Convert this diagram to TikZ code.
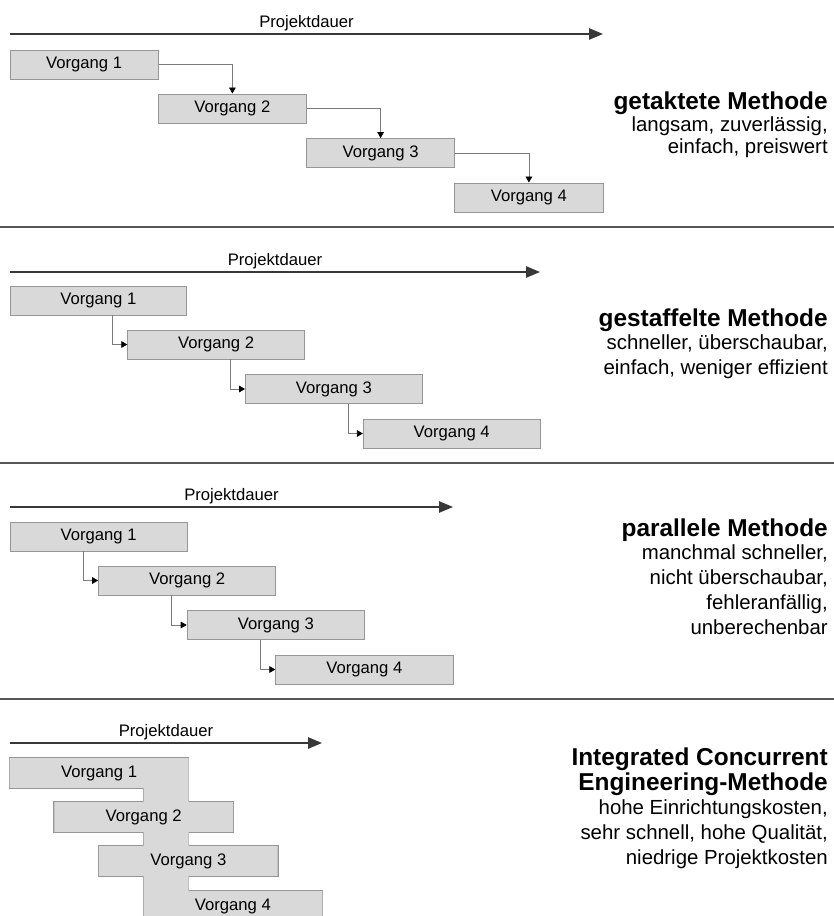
\documentclass[tikz,border=0pt]{standalone}
\usepackage{fontspec}
\setmainfont{Liberation Sans}
\usetikzlibrary{arrows.meta,calc,backgrounds}
\definecolor{boxfill}{HTML}{D9D9D9}
\definecolor{boxline}{HTML}{969696}
\definecolor{darkline}{HTML}{383838}
\definecolor{connline}{HTML}{7A7A7A}
\newcommand{\mtitel}{\fontsize{18.3}{18.3}\selectfont\bfseries}

\begin{document}
\begin{tikzpicture}[x=0.75pt, y=-0.75pt, every node/.style={font=\fontsize{12.5}{15}\selectfont, inner sep=0pt},
	vg/.style={draw=boxline, line width=0.7pt, fill=boxfill, minimum height=21.75pt, minimum width=#1},
	vgtext/.style={minimum height=21.75pt, minimum width=#1},
	dauer/.style={draw=darkline, line width=1.2pt, -{Triangle[length=10.5pt,width=8.5pt]}},
	conn/.style={draw=connline, line width=0.6pt, -{Triangle[length=4.5pt,width=5pt,color=black]}},
	trenn/.style={draw=darkline!85, line width=1.5pt},
	meth/.style={anchor=north east, align=right, font=\fontsize{15.3}{18.75}\selectfont}]
	\useasboundingbox (0,0) rectangle (834,916);
	% getaktete Methode
	\coordinate (sa) at (10,34);
	\coordinate (ea) at (603,34);
	\draw[dauer] (sa) -- (ea) node[midway, above=2pt] (pa) {Projektdauer};
	\node[vg=111.2pt] (a1) at (84.1,64.5) {Vorgang 1};
	\node[vg=111.2pt] (a2) at (232.4,108.5) {Vorgang 2};
	\node[vg=111.2pt] (a3) at (380.6,153) {Vorgang 3};
	\node[vg=111.2pt] (a4) at (528.9,197.5) {Vorgang 4};
	\draw[conn] (a1) -| (a2);
	\draw[conn] (a2) -| (a3);
	\draw[conn] (a3) -| (a4);
	\node[meth, font=\fontsize{15.3}{17}\selectfont] (ma) at (828,92) {{\mtitel getaktete Methode}\\[-1pt] langsam, zuverlässig,\\ einfach, preiswert};
	\draw[trenn] (0,227) -- (834,227);
	% gestaffelte Methode
	\coordinate (sb) at (10,272);
	\coordinate (eb) at (540,272);
	\draw[dauer] (sb) -- (eb) node[midway, above=2pt] (pb) {Projektdauer};
	\node[vg=132.5pt] (b1) at (98.3,300.5) {Vorgang 1};
	\node[vg=132.5pt] (b2) at (216.1,344.5) {Vorgang 2};
	\node[vg=132.5pt] (b3) at (333.9,389) {Vorgang 3};
	\node[vg=132.5pt] (b4) at (451.7,433.5) {Vorgang 4};
	\draw[conn] ($(b1.south -| b2.west)+(-15,0)$) |- (b2.west);
	\draw[conn] ($(b2.south -| b3.west)+(-15,0)$) |- (b3.west);
	\draw[conn] ($(b3.south -| b4.west)+(-15,0)$) |- (b4.west);
	\node[meth] (mb) at (828,309) {{\mtitel gestaffelte Methode}\\[-2pt] schneller, überschaubar,\\ einfach, weniger effizient};
	\draw[trenn] (0,463) -- (834,463);
	% parallele Methode
	\coordinate (sc) at (10,507);
	\coordinate (ec) at (453,507);
	\draw[dauer] (sc) -- (ec) node[midway, above=2pt] (pc) {Projektdauer};
	\node[vg=132.9pt] (c1) at (98.6,536.5) {Vorgang 1};
	\node[vg=132.9pt] (c2) at (187.2,580.5) {Vorgang 2};
	\node[vg=132.9pt] (c3) at (275.8,625) {Vorgang 3};
	\node[vg=132.9pt] (c4) at (364.4,669.5) {Vorgang 4};
	\draw[conn] ($(c1.south -| c2.west)+(-15,0)$) |- (c2.west);
	\draw[conn] ($(c2.south -| c3.west)+(-15,0)$) |- (c3.west);
	\draw[conn] ($(c3.south -| c4.west)+(-15,0)$) |- (c4.west);
	\node[meth] (mc) at (828,519) {{\mtitel parallele Methode}\\[-2pt] manchmal schneller,\\ nicht überschaubar,\\ fehleranfällig,\\ unberechenbar};
	\draw[trenn] (0,699) -- (834,699);
	% Integrated Concurrent Engineering
	\coordinate (sd) at (10,743);
	\coordinate (ed) at (322,743);
	\draw[dauer] (sd) -- (ed) node[midway, above=2pt] (pd) {Projektdauer};
	\node[vgtext=133.7pt] (d1) at (99.1,773) {Vorgang 1};
	\node[vgtext=133.7pt] (d2) at (143.7,817) {Vorgang 2};
	\node[vgtext=133.7pt] (d3) at (188.3,861) {Vorgang 3};
	\node[vgtext=133.7pt] (d4) at (232.9,906) {Vorgang 4};
	\begin{scope}[on background layer]
		\draw[boxline, line width=1.4pt] (d1.south west) rectangle (d1.north east) (d2.south west) rectangle (d2.north east) (d3.south west) rectangle (d3.north east) (d4.south west) rectangle (d4.north east) (d4.south west) rectangle (d1.north east);
		\fill[boxfill] (d1.south west) rectangle (d1.north east) (d2.south west) rectangle (d2.north east) (d3.south west) rectangle (d3.north east) (d4.south west) rectangle (d4.north east) (d4.south west) rectangle (d1.north east);
	\end{scope}
	\node[meth] (md) at (828,748) {{\mtitel Integrated Concurrent}\\ {\mtitel Engineering-Methode}\\[-1.3pt] hohe Einrichtungskosten,\\ sehr schnell, hohe Qualität,\\ niedrige Projektkosten};
\end{tikzpicture}
\end{document}
